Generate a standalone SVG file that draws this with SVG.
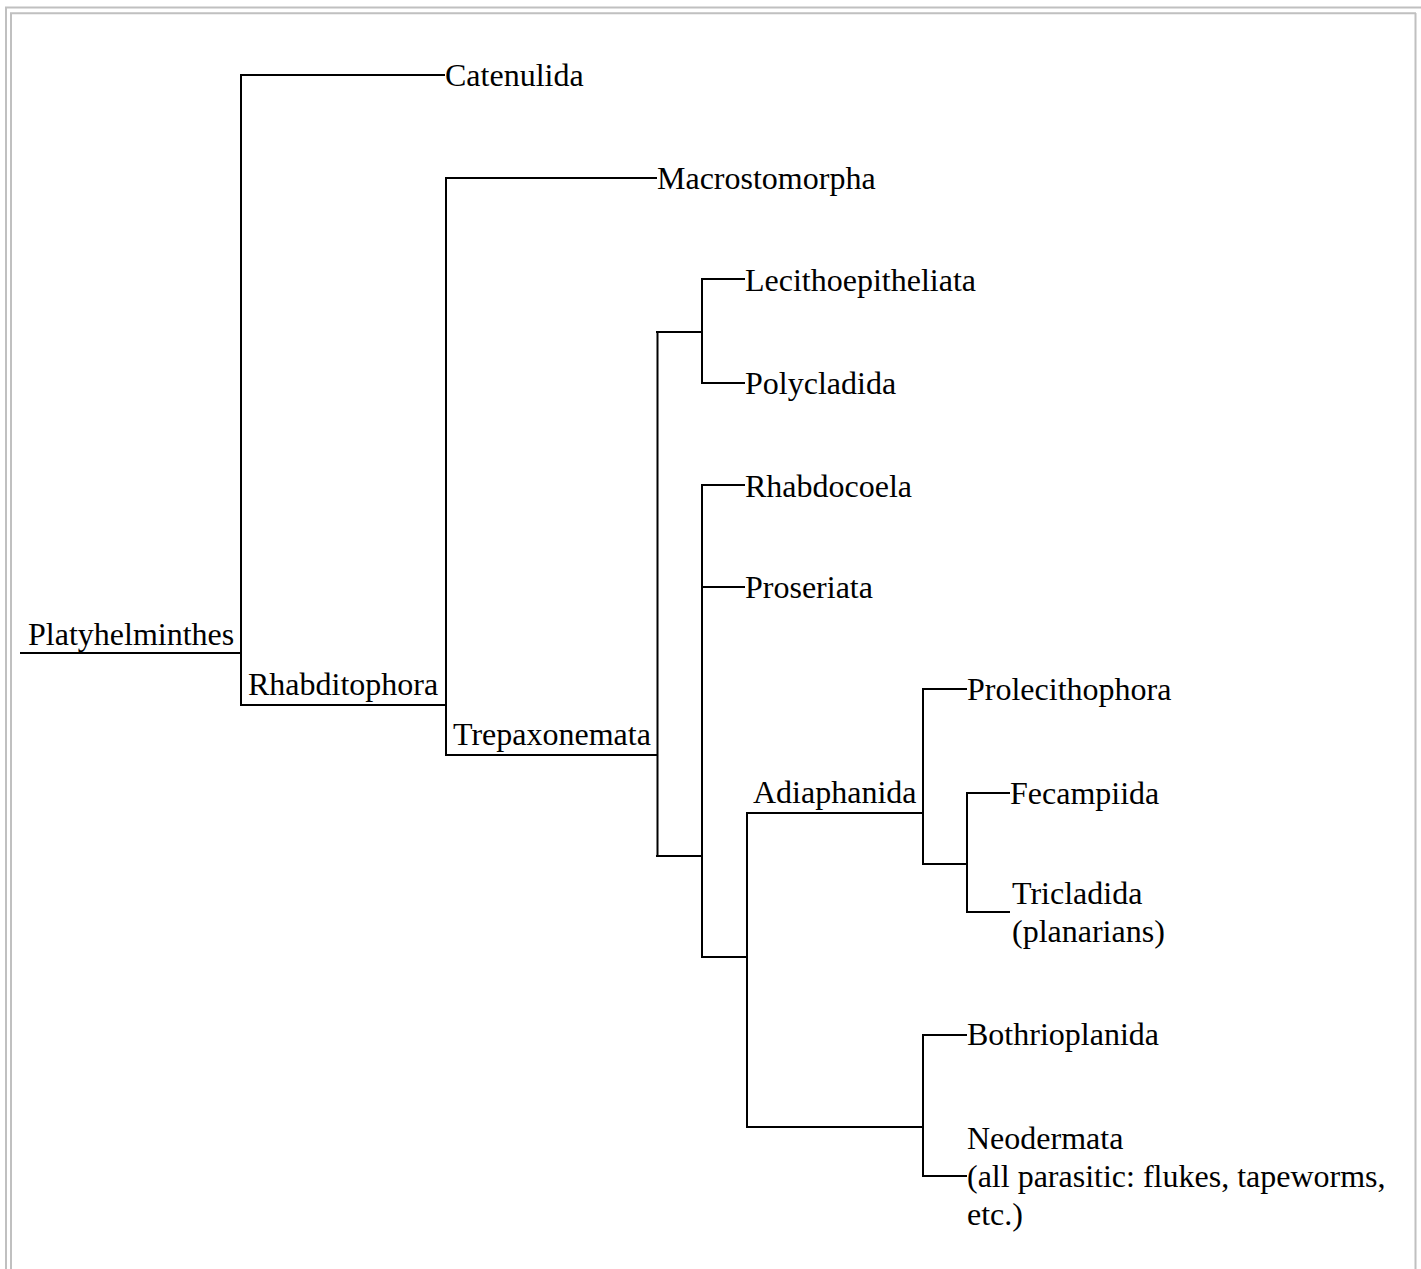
<svg xmlns="http://www.w3.org/2000/svg" width="1421" height="1269" viewBox="0 0 1421 1269">
<style>
.frame{fill:none;stroke:#c0c0c0;stroke-width:2}
.edge{fill:none;stroke:#000;stroke-width:2;stroke-linecap:square}
text{font-family:"Liberation Serif","Times New Roman",serif;font-size:32px;fill:#000}
</style>
<rect x="0" y="0" width="1421" height="1269" fill="#fff"/>
<g id="frame">
<path class="frame" d="M5 7.5H1421M6 7V1269"/>
<path class="frame" d="M10 13.3H1416M11 13V1269M1415.5 13V1269"/>
</g>
<g id="connectors">
<path class="edge" d="M21 653H241M241 75V705M241 75H444M241 705H446M446 178V755M446 178H656M446 755H657"/>
<path class="edge" d="M657.5 332V856M657 332H702M702 279V383M702 279H744M702 383H744"/>
<path class="edge" d="M657 856H702M702 485V957M702 485H744M702 587H744M702 957H747"/>
<path class="edge" d="M747 813V1127M747 813H923M923 689V864M923 689H966M923 864H967M967 793V912M967 793H1009M967 912H1009"/>
<path class="edge" d="M747 1127H923M923 1035V1176M923 1035H966M923 1176H966"/>
</g>
<g id="node-platyhelminthes"><text x="28" y="645">Platyhelminthes</text></g>
<g id="node-catenulida"><text x="445" y="86">Catenulida</text></g>
<g id="node-rhabditophora"><text x="248" y="695">Rhabditophora</text></g>
<g id="node-macrostomorpha"><text x="657" y="189">Macrostomorpha</text></g>
<g id="node-trepaxonemata"><text x="453" y="745">Trepaxonemata</text></g>
<g id="node-lecithoepitheliata"><text x="745" y="291">Lecithoepitheliata</text></g>
<g id="node-polycladida"><text x="745" y="394">Polycladida</text></g>
<g id="node-rhabdocoela"><text x="745" y="497">Rhabdocoela</text></g>
<g id="node-proseriata"><text x="745" y="598">Proseriata</text></g>
<g id="node-adiaphanida"><text x="753" y="803">Adiaphanida</text></g>
<g id="node-prolecithophora"><text x="967" y="700">Prolecithophora</text></g>
<g id="node-fecampiida"><text x="1010" y="804">Fecampiida</text></g>
<g id="node-tricladida"><text x="1012" y="904">Tricladida</text><text x="1012" y="942">(planarians)</text></g>
<g id="node-bothrioplanida"><text x="967" y="1045">Bothrioplanida</text></g>
<g id="node-neodermata"><text x="967" y="1149">Neodermata</text><text x="967" y="1187">(all parasitic: flukes, tapeworms,</text><text x="967" y="1225">etc.)</text></g>
</svg>
